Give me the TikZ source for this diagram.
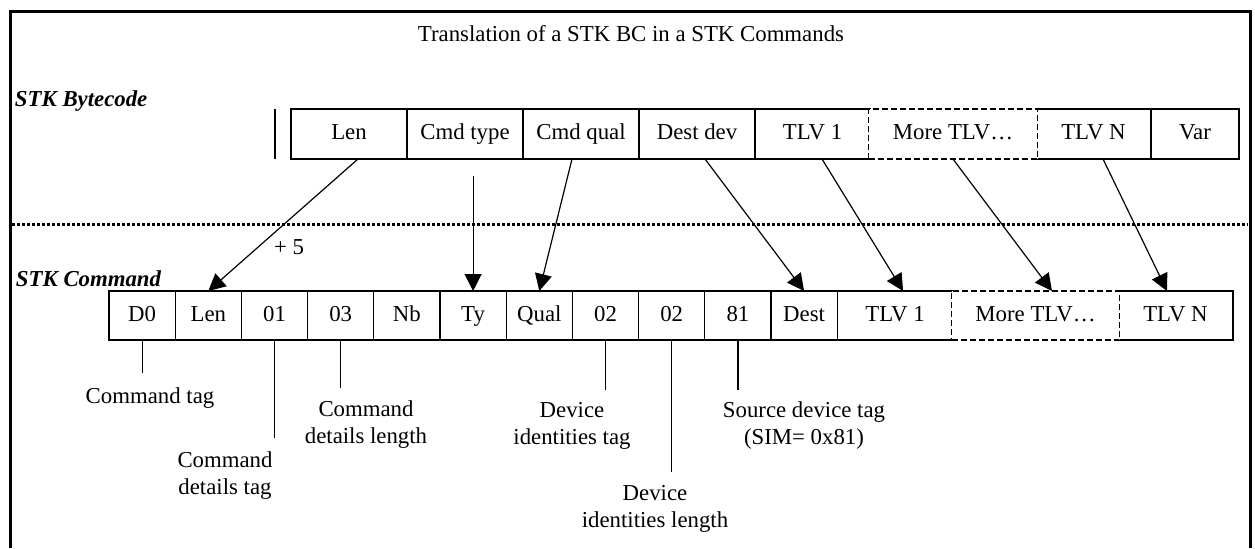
\documentclass[tikz,border=0pt]{standalone}
\usepackage{fontspec}
\setmainfont{Liberation Serif}
\usetikzlibrary{arrows.meta}
\begin{document}
\begin{tikzpicture}[x=0.5pt,y=-0.5pt,
  every node/.style={font=\fontsize{11.4}{13.3}\selectfont, inner sep=0pt, outer sep=0pt},
  cell/.style={draw, line width=0.6pt, rectangle, minimum height=25pt, text height=8pt, text depth=2.5pt},
  ccell/.style={cell, minimum height=24.5pt, minimum width=33.1pt},
  dcell/.style={cell, dash pattern=on 3pt off 1.5pt, fill=white, line width=0.75pt},
  arr/.style={-{Triangle[length=8.5pt,width=8.5pt]}, line width=0.6pt},
  lead/.style={line width=0.6pt},
  lbl/.style={align=center, anchor=base},
  hdr/.style={font=\fontsize{11.4}{13.3}\selectfont\bfseries\itshape, anchor=base west},
]
\useasboundingbox (0,0) rectangle (1255,548);
% frame
\draw[line width=1.5pt] (10,548) -- (10,11) -- (1250,11) -- (1250,548);
% title and headers
\node[anchor=base] (title) at (631,41) {Translation of a STK BC in a STK Commands};
\node[hdr] (hbc) at (15,106) {STK Bytecode};
\node[hdr] (hcmd) at (16,286) {STK Command};
% separator
\draw[line width=1.5pt, dash pattern=on 1.5pt off 1pt] (12,224) -- (1248,224);
% bytecode row
\draw[line width=0.75pt] (275,109) -- (275,159);
\node[cell, minimum width=58pt] (blen) at (349,134) {Len};
\node[cell, minimum width=58pt] (bctype) at (465,134) {Cmd type};
\node[cell, minimum width=58pt] (bcqual) at (581,134) {Cmd qual};
\node[cell, minimum width=58pt] (bdest) at (697,134) {Dest dev};
\node[cell, minimum width=57.5pt] (btlv1) at (812.5,134) {TLV 1};
\node[cell, minimum width=57.5pt] (btlvn) at (1093.5,134) {TLV N};
\node[cell, minimum width=44pt] (bvar) at (1195,134) {Var};
\node[dcell, minimum width=84.5pt] (bmore) at (953,134) {More TLV\ldots};
% command row
\node[ccell] (cd0) at (142.1,315.5) {D0};
\node[ccell] (clen) at (208.3,315.5) {Len};
\node[ccell] (c01) at (274.5,315.5) {01};
\node[ccell] (c03) at (340.7,315.5) {03};
\node[ccell] (cnb) at (406.9,315.5) {Nb};
\node[ccell] (cty) at (473.1,315.5) {Ty};
\node[ccell] (cqual) at (539.3,315.5) {Qual};
\node[ccell] (c02a) at (605.5,315.5) {02};
\node[ccell] (c02b) at (671.7,315.5) {02};
\node[ccell] (c81) at (737.9,315.5) {81};
\node[ccell] (cdest) at (804.1,315.5) {Dest};
\node[ccell, minimum width=57.9pt] (ctlv1) at (895.1,315.5) {TLV 1};
\node[ccell, minimum width=57.5pt] (ctlvn) at (1175.5,315.5) {TLV N};
\node[dcell, minimum height=24.5pt, minimum width=84pt] (cmore) at (1035.5,315.5) {More TLV\ldots};
% arrows
\draw[arr] ([xshift=4.5pt]blen.south) -- (clen.north);
\node[anchor=base] (plus5) at (289,254) {+ 5};
\coordinate (tystart) at (473.1,176);
\draw[arr] (tystart) -- (cty.north);
\draw[arr] ([xshift=-4.5pt]bcqual.south) -- (cqual.north);
\draw[arr] ([xshift=4pt]bdest.south) -- (cdest.north);
\draw[arr] ([xshift=4.75pt]btlv1.south) -- ([xshift=4pt]ctlv1.north);
\draw[arr] (bmore.south) -- ([xshift=8.25pt]cmore.north);
\draw[arr] ([xshift=4.75pt]btlvn.south) -- ([xshift=-4.25pt]ctlvn.north);
% leaders
\draw[lead] (cd0.south) -- ++(0,33) coordinate (ed0);
\draw[lead] (c01.south) -- ++(0,98) coordinate (e01);
\draw[lead] (c03.south) -- ++(0,48) coordinate (e03);
\draw[lead] (c02a.south) -- ++(0,50) coordinate (e02a);
\draw[lead] (c02b.south) -- ++(0,132) coordinate (e02b);
\draw[lead] (c81.south) -- ++(0,50) coordinate (e81);
% labels
\node[lbl] (lcmdtag) at (150,403) {Command tag};
\node[lbl] (lcdtag) at (225,494) {Command\\details tag};
\node[lbl] (lcdlen) at (366,443) {Command\\details length};
\node[lbl] (ldidtag) at (572,444) {Device\\identities tag};
\node[lbl] (ldidlen) at (655,527) {Device\\identities length};
\node[lbl] (lsrc) at (804,444) {Source device tag\\(SIM= 0x81)};
\end{tikzpicture}
\end{document}
